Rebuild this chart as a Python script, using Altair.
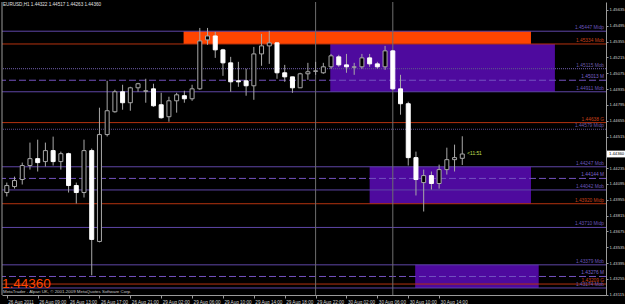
import json
import altair as alt
import pandas as pd

# ---------------- data ----------------
bars = list(range(60))
opens = [1.44019,1.44072,1.44134,1.44258,1.44319,1.44293,1.44390,1.44293,1.44363,1.44081,
         1.44019,1.44390,1.43586,1.44532,1.44734,1.44911,1.44814,1.44946,1.44915,1.44937,
         1.44796,1.44690,1.44831,1.44876,1.44849,1.44937,1.45370,1.45405,1.45282,1.45167,
         1.45008,1.45008,1.44964,1.45246,1.45317,1.45344,1.45079,1.45043,1.44946,1.45070,
         1.45092,1.45079,1.45132,1.45220,1.45149,1.45128,1.45132,1.45211,1.45158,1.45132,
         1.45273,1.44937,1.44805,1.44328,1.44107,1.44169,1.44099,1.44222,1.44310,1.44322]
highs = [1.44107,1.44160,1.44284,1.44461,1.44487,1.44461,1.44514,1.44381,1.44372,1.44107,
         1.44487,1.44408,1.44770,1.45008,1.44929,1.44973,1.44955,1.44990,1.45026,1.44982,
         1.44902,1.44867,1.44902,1.44920,1.44973,1.45476,1.45476,1.45441,1.45291,1.45220,
         1.45176,1.45114,1.45308,1.45423,1.45450,1.45352,1.45149,1.45043,1.45079,1.45167,
         1.45176,1.45167,1.45246,1.45238,1.45246,1.45167,1.45246,1.45246,1.45176,1.45317,
         1.45282,1.45061,1.44823,1.44381,1.44222,1.44205,1.44266,1.44416,1.44443,1.44517]
lows = [1.43984,1.44054,1.44090,1.44222,1.44205,1.44249,1.44258,1.44222,1.44019,1.43922,
        1.43975,1.43286,1.43578,1.44515,1.44726,1.44752,1.44743,1.44911,1.44814,1.44778,
        1.44673,1.44646,1.44726,1.44814,1.44831,1.44929,1.45326,1.45211,1.45052,1.44911,
        1.44955,1.44876,1.44840,1.45141,1.45158,1.45026,1.44999,1.44902,1.44946,1.45017,
        1.45061,1.45070,1.45114,1.45132,1.45079,1.45061,1.45114,1.45132,1.45114,1.45105,
        1.44929,1.44708,1.44258,1.43993,1.43851,1.44046,1.44054,1.44178,1.44205,1.44263]
closes = [1.44081,1.44125,1.44258,1.44319,1.44284,1.44390,1.44293,1.44363,1.44081,1.44019,
          1.44390,1.43604,1.44532,1.44743,1.44911,1.44814,1.44946,1.44982,1.44920,1.44787,
          1.44681,1.44831,1.44884,1.44849,1.44937,1.45361,1.45405,1.45282,1.45167,1.44999,
          1.44999,1.44964,1.45246,1.45317,1.45344,1.45079,1.45043,1.44946,1.45070,1.45088,
          1.45096,1.45132,1.45229,1.45149,1.45132,1.45132,1.45211,1.45158,1.45132,1.45273,
          1.44937,1.44805,1.44328,1.44134,1.44169,1.44099,1.44222,1.44310,1.44328,1.44360]

levels = [1.45447,1.45334,1.45115,1.45013,1.44911,1.44638,1.44579,1.44247,
          1.44144,1.44042,1.43920,1.43710,1.43379,1.43276,1.43209,1.43174]
level_styles = ["solid","orange","dotted","dashed","solid","orange","dotted","solid",
                "dashed","solid","orange","solid","solid","dashed","orange","solid"]
level_labels = ["1.45447  Midp","1.45334  Mob","1.45115  Mob","1.45013  M","1.44911  Mob",
                "1.44638  G","1.44579  Midp","1.44247  Mob","1.44144  M","1.44042  Mob",
                "1.43920  Midp","1.43710  Midp","1.43379  Mob","1.43276  M","1.43209  G",
                "1.43174  Mob"]

zone_start = [22.9, 41.9, 47.0, 52.9]
zone_end = [67.9, 71.0, 67.9, 68.9]
zone_top = [1.45447, 1.45334, 1.44247, 1.43379]
zone_bottom = [1.45334, 1.44911, 1.43920, 1.43174]
zone_kind = ["orange", "purple", "purple", "purple"]

separator_bars = [40, 50]

time_tick_bars = [0, 4, 8, 12, 16, 20, 24, 28, 32, 36, 40, 44, 48, 52, 56]
time_labels = ["26 Aug 2011", "26 Aug 09:00", "26 Aug 13:00", "26 Aug 17:00", "26 Aug 21:00",
               "29 Aug 02:00", "29 Aug 06:00", "29 Aug 10:00", "29 Aug 14:00", "29 Aug 18:00",
               "29 Aug 22:00", "30 Aug 02:00", "30 Aug 06:00", "30 Aug 10:00", "30 Aug 14:00"]
price_ticks = [1.45635, 1.45495, 1.45355, 1.45215, 1.45075, 1.44935, 1.44795, 1.44655,
               1.44515, 1.44235, 1.44095, 1.43955, 1.43815, 1.43675, 1.43535, 1.43395,
               1.43255, 1.43115]

current_price = 1.44360
header_text = "EURUSD,H1  1.44322 1.44517 1.44263 1.44360"
copyright_text = "MetaTrader - Alpari UK, \u00a9 2001-2009 MetaQuotes Software Corp."
timer_text = "<11:51"

# ---------------- styling ----------------
FONT = "Liberation Sans"
PURPLE_LINE = "#5E46A6"
ORANGE_LINE = "#B4320F"
DOTTED_LINE = "#5A4C8C"
DASHED_LINE = "#7452C0"
label_colors = {"solid": "#6A56BC", "orange": "#C8401A", "dotted": "#6A5AA8", "dashed": "#7C62CC"}

W, H = 604, 293

xscale = alt.Scale(domain=[0.025, 76.97], nice=False, zero=False)
yscale = alt.Scale(domain=[1.43112, 1.457056], nice=False, zero=False)

xaxis = alt.Axis(values=time_tick_bars,
                 labelExpr=f"{json.dumps(time_labels)}[round(datum.value / 4)]",
                 orient="bottom", grid=False, title=None,
                 domainColor="#9A9A9A", tickColor="#9A9A9A", tickSize=3,
                 labelColor="#D0D0D0", labelFont=FONT, labelFontSize=4.6,
                 labelAlign="left", labelBaseline="top", labelPadding=1.5, labelOverlap=False,
                 labelFlush=False, labelBound=False, labelOffset=1)
yaxis = alt.Axis(values=price_ticks, format=".5f", orient="right", grid=False, title=None,
                 domainColor="#9A9A9A", tickColor="#9A9A9A", tickSize=2,
                 labelColor="#D0D0D0", labelFont=FONT, labelFontSize=4.2,
                 labelPadding=1, labelOverlap=False, labelFlush=False, labelBound=False)


def X(field):
    return alt.X(f"{field}:Q", scale=xscale, axis=xaxis)


def Y(field):
    return alt.Y(f"{field}:Q", scale=yscale, axis=yaxis)


candles = pd.DataFrame({"bar": bars, "open": opens, "high": highs, "low": lows, "close": closes})
candles["fillc"] = ["#000000" if c > o else "#FFFFFF" for o, c in zip(opens, closes)]
candles["strokec"] = ["#A8A8A8" if c > o else "#FFFFFF" for o, c in zip(opens, closes)]

lv = pd.DataFrame({"level": levels, "style": level_styles, "label": level_labels})
lv["col"] = [label_colors[s] for s in level_styles]

zones = pd.DataFrame({"xs": zone_start, "xe": zone_end, "top": zone_top,
                      "bottom": zone_bottom, "kind": zone_kind})
seps = pd.DataFrame({"bar": separator_bars})
cur = pd.DataFrame({"price": [current_price], "txt": [f"{current_price:.5f}"],
                    "last": [bars[-1]], "timer": [timer_text]})
hdr = pd.DataFrame({"t": [header_text], "c": [copyright_text], "p": [f"{current_price:.5f}"]})

base_z = alt.Chart(zones)
zone_orange = base_z.mark_rect(color="#FF4500", clip=True).encode(
    x=X("xs"), x2="xe", y=Y("top"), y2="bottom").transform_filter("datum.kind == 'orange'")
zone_purple = base_z.mark_rect(color="#4E0A9E", clip=True).encode(
    x=X("xs"), x2="xe", y=Y("top"), y2="bottom").transform_filter("datum.kind == 'purple'")

base_l = alt.Chart(lv)
line_solid = base_l.mark_rule(color=PURPLE_LINE, strokeWidth=1).encode(
    y=Y("level")).transform_filter("datum.style == 'solid'")
line_orange = base_l.mark_rule(color=ORANGE_LINE, strokeWidth=1).encode(
    y=Y("level")).transform_filter("datum.style == 'orange'")
line_dotted = base_l.mark_rule(color=DOTTED_LINE, strokeWidth=1.2, strokeDash=[1, 1]).encode(
    y=Y("level")).transform_filter("datum.style == 'dotted'")
line_dashed = base_l.mark_rule(color=DASHED_LINE, strokeWidth=1, strokeDash=[7, 3]).encode(
    y=Y("level")).transform_filter("datum.style == 'dashed'")
line_labels = base_l.mark_text(align="right", baseline="bottom", dy=-1, font=FONT,
                               fontSize=4.8).encode(
    x=alt.value(W - 2), y=Y("level"), text="label:N", color=alt.Color("col:N", scale=None))

separators = alt.Chart(seps).mark_rule(color="#6E6E6E", strokeWidth=1).encode(x=X("bar"))

wicks = alt.Chart(candles).mark_rule(color="#A8A8A8", strokeWidth=1, clip=True).encode(
    x=X("bar"), y=Y("low"), y2="high")
bodies = alt.Chart(candles).mark_bar(size=4, strokeWidth=1, clip=True).encode(
    x=X("bar"), y=Y("open"), y2="close",
    fill=alt.Fill("fillc:N", scale=None), stroke=alt.Stroke("strokec:N", scale=None))

border_left = alt.Chart(hdr).mark_rule(color="#9A9A9A").encode(
    x=alt.value(0), y=alt.value(0), y2=alt.value(H))

cur_box = alt.Chart(cur).transform_calculate(
    ptop="datum.price + 0.00030", pbot="datum.price - 0.00030"
).mark_rect(color="#FFFFFF").encode(x=alt.value(W + 1), x2=alt.value(W + 19),
                                    y=Y("ptop"), y2="pbot")
cur_text = alt.Chart(cur).mark_text(align="left", baseline="middle", font=FONT, fontSize=4.2,
                                    color="#000000").encode(
    x=alt.value(W + 3), y=Y("price"), text="txt:N")
timer = alt.Chart(cur).mark_text(align="left", baseline="middle", font=FONT, fontSize=4.8,
                                 color="#C8E05A", dx=5).encode(
    x=X("last"), y=Y("price"), text="timer:N")

header = alt.Chart(hdr).mark_text(align="left", baseline="middle", font=FONT, fontSize=4.6,
                                  color="#E0E0E0").encode(
    x=alt.value(1), y=alt.value(3), text="t:N")
big_price = alt.Chart(hdr).mark_text(align="left", baseline="alphabetic", font=FONT,
                                     fontSize=13.5, color="#FF4500").encode(
    x=alt.value(0), y=alt.value(H - 7), text="p:N")
copyright_mark = alt.Chart(hdr).mark_text(align="left", baseline="middle", font=FONT,
                                          fontSize=4.4, color="#C8C8C8").encode(
    x=alt.value(1), y=alt.value(H - 3), text="c:N")

chart = alt.layer(
    zone_purple, zone_orange,
    line_solid, line_orange, line_dotted, line_dashed,
    separators, line_labels,
    wicks, bodies,
    border_left, cur_box, cur_text, timer,
    header, big_price, copyright_mark,
).properties(
    width=W, height=H,
    autosize=alt.AutoSizeParams(type="none"),
    padding={"left": 2, "top": 2, "right": 19, "bottom": 9},
    background="#000000",
).configure_view(stroke=None, fill="#000000")

chart.save("out.html", embed_options={"renderer": "svg", "actions": False})
